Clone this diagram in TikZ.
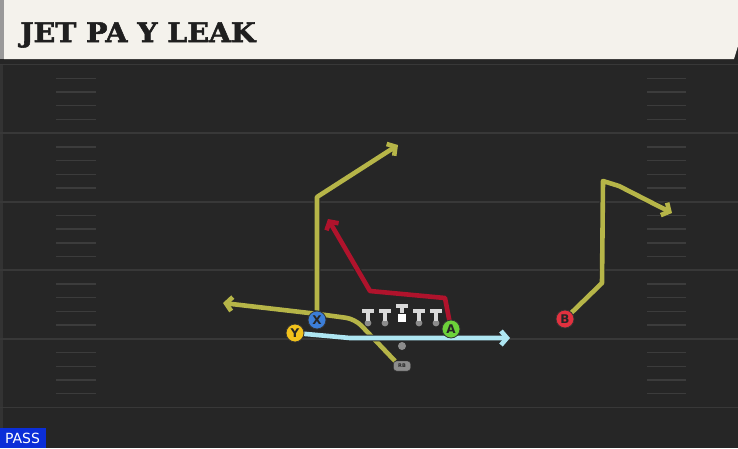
\documentclass[tikz,border=0pt]{standalone}
\usepackage{fontspec}
\newfontfamily\titlefont[FakeBold=2]{DejaVu Serif}
\newfontfamily\labfont{DejaVu Sans}
\usetikzlibrary{arrows.meta}

\definecolor{field}{HTML}{262626}
\definecolor{cream}{HTML}{F4F2EC}
\definecolor{yardline}{HTML}{383838}
\definecolor{hashmark}{HTML}{3C3C3C}
\definecolor{olive}{HTML}{B6B548}
\definecolor{crimson}{HTML}{B0132C}
\definecolor{ice}{HTML}{AEE6F2}
\definecolor{xblue}{HTML}{3C7ED8}
\definecolor{ygold}{HTML}{F2C21C}
\definecolor{agreen}{HTML}{6CD23A}
\definecolor{bred}{HTML}{E2313F}
\definecolor{passblue}{HTML}{0B2ED8}

\tikzset{
  route/.style={line width=4.6pt,line join=round,
    preaction={draw=black!85,line width=6.6pt},
    -{Straight Barb[length=6pt,width=14pt]}},
  plr/.style={circle,draw=black!80,line width=0.8pt,minimum size=18pt,inner sep=0pt,
    font=\labfont\bfseries\fontsize{12}{12}\selectfont,text=black!85},
  lineman/.style={fill=black!15}
}

\begin{document}
\begin{tikzpicture}[x=1pt,y=-1pt]
\useasboundingbox (0,0) rectangle (738,448);
\fill[field] (0,0) rectangle (738,448);
\fill[black!80] (0,59) rectangle (3,448);
\fill[black!85] (0,59) rectangle (738,64);
\fill[black!40] (0,0) rectangle (4,59);
\fill[cream] (4,0)--(738,0)--(738,46)--(734,59)--(4,59)--cycle;
\node[anchor=base west,inner sep=0pt,text=black!88,xscale=1.05] (title) at (20,42)
  {\titlefont\bfseries\fontsize{27}{27}\selectfont JET PA Y LEAK};

\foreach \k in {0,...,5}
  \draw[yardline,line width=1.8pt] (0,64.5+68.6*\k) -- (738,64.5+68.6*\k);
\foreach \k in {0,...,4}
  \foreach \i in {1,...,4} {
    \draw[hashmark,line width=1.4pt] (56,64.5+68.6*\k+13.72*\i) -- (96,64.5+68.6*\k+13.72*\i);
    \draw[hashmark,line width=1.4pt] (647,64.5+68.6*\k+13.72*\i) -- (686,64.5+68.6*\k+13.72*\i);
  }

\coordinate (x) at (317,320);
\coordinate (y) at (295,333);
\coordinate (a) at (451,329);
\coordinate (b) at (565,319);
\coordinate (rb) at (395,361);

\draw[route,olive] (x) -- (317,197) -- (398,145);
\draw[route,olive,rounded corners=9pt] (rb) -- (355,319) -- (318,314) -- (223,303);
\draw[route,ice] (y) -- (350,338) -- (510,338);
\draw[route,crimson] (a) -- (445,298) -- (370,291) -- (328,219);
\draw[route,olive] (b) -- (602,283) -- (603,181) -- (619,186) -- (672,213);

\foreach \lx in {368,385,419,436} {
  \fill[black!45] (\lx,323) circle (3.4);
  \fill[lineman] (\lx-6,309) rectangle (\lx+6,313);
  \fill[lineman] (\lx-1.8,313) rectangle (\lx+1.8,321);
}
\fill[lineman] (396,304) rectangle (408,308);
\fill[lineman] (400.2,308) rectangle (403.8,313);
\fill[white] (398,314) rectangle (406,322);
\node[circle,fill=black!45,minimum size=8pt,inner sep=0pt] (qb) at (402,346) {};
\node[draw=black!80,fill=black!45,rounded corners=3pt,minimum width=17pt,minimum height=10pt,
  inner sep=0pt,font=\labfont\bfseries\fontsize{5}{5}\selectfont,text=black!85] (RB) at (402,366) {RB};

\node[plr,fill=xblue] (X) at (x) {X};
\node[plr,fill=ygold] (Y) at (y) {Y};
\node[plr,fill=agreen] (A) at (a) {A};
\node[plr,fill=bred] (B) at (b) {B};

\fill[passblue] (0,428) rectangle (46,448);
\node[text=white,inner sep=0pt,font=\labfont\fontsize{14}{14}\selectfont] (pass) at (22.5,438.5) {PASS};
\end{tikzpicture}
\end{document}
